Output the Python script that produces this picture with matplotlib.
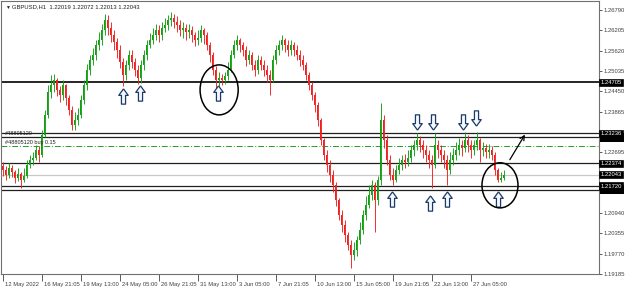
import numpy as np
import matplotlib
matplotlib.use("Agg")
import matplotlib.pyplot as plt
import matplotlib.transforms as mtransforms
from matplotlib.patches import Ellipse, Rectangle
from matplotlib.path import Path

plt.rcParams['font.family'] = ['Liberation Sans', 'DejaVu Sans']

# GBPUSD candles (each bar ~5 hours), open = previous close
first_open = 1.2230
closes = [1.2218, 1.2204, 1.2224, 1.2213, 1.2195, 1.2207, 1.2190, 1.2201,
          1.2233, 1.2247, 1.2253, 1.2276, 1.2262, 1.2319, 1.2377, 1.2443,
          1.2463, 1.2478, 1.2449, 1.2434, 1.2463, 1.2426, 1.2391, 1.2348,
          1.2362, 1.2377, 1.2420, 1.2463, 1.2506, 1.2535, 1.2550, 1.2578,
          1.2593, 1.2622, 1.2650, 1.2627, 1.2607, 1.2587, 1.2564, 1.2529,
          1.2492, 1.2521, 1.2550, 1.2529, 1.2506, 1.2483, 1.2521, 1.2550,
          1.2578, 1.2593, 1.2607, 1.2622, 1.2607, 1.2627, 1.2636, 1.2650,
          1.2656, 1.2645, 1.2636, 1.2622, 1.2627, 1.2616, 1.2622, 1.2607,
          1.2593, 1.2599, 1.2622, 1.2607, 1.2578, 1.2550, 1.2506, 1.2478,
          1.2483, 1.2478, 1.2489, 1.2506, 1.2550, 1.2578, 1.2593, 1.2578,
          1.2564, 1.2535, 1.2550, 1.2521, 1.2506, 1.2535, 1.2521, 1.2506,
          1.2492, 1.2478, 1.2535, 1.2564, 1.2578, 1.2593, 1.2578, 1.2564,
          1.2578, 1.2564, 1.2550, 1.2535, 1.2521, 1.2492, 1.2463, 1.2434,
          1.2406, 1.2362, 1.2305, 1.2262, 1.2233, 1.2204, 1.2175, 1.2132,
          1.2089, 1.2060, 1.2031, 1.2002, 1.1974, 1.1988, 1.2017, 1.2046,
          1.2089, 1.2118, 1.2146, 1.2175, 1.2132, 1.2190, 1.2362, 1.2305,
          1.2247, 1.2204, 1.2190, 1.2218, 1.2233, 1.2247, 1.2241, 1.2253,
          1.2276, 1.2290, 1.2305, 1.2290, 1.2276, 1.2262, 1.2247, 1.2233,
          1.2290, 1.2276, 1.2262, 1.2247, 1.2218, 1.2247, 1.2262, 1.2276,
          1.2290, 1.2282, 1.2305, 1.2290, 1.2276, 1.2290, 1.2305, 1.2276,
          1.2282, 1.2270, 1.2276, 1.2262, 1.2218, 1.2190, 1.2195, 1.2204]
highs = [1.2241, 1.2230, 1.2239, 1.2233, 1.2218, 1.2224, 1.2213, 1.2224,
         1.2247, 1.2262, 1.2270, 1.2290, 1.2288, 1.2334, 1.2391, 1.2463,
         1.2492, 1.2495, 1.2483, 1.2460, 1.2478, 1.2466, 1.2434, 1.2403,
         1.2385, 1.2397, 1.2434, 1.2478, 1.2524, 1.2550, 1.2570, 1.2593,
         1.2616, 1.2639, 1.2668, 1.2665, 1.2645, 1.2622, 1.2599, 1.2578,
         1.2541, 1.2535, 1.2564, 1.2564, 1.2541, 1.2521, 1.2535, 1.2564,
         1.2593, 1.2613, 1.2627, 1.2639, 1.2636, 1.2645, 1.2656, 1.2665,
         1.2673, 1.2668, 1.2662, 1.2650, 1.2645, 1.2639, 1.2639, 1.2633,
         1.2616, 1.2622, 1.2636, 1.2627, 1.2616, 1.2587, 1.2558, 1.2518,
         1.2501, 1.2495, 1.2501, 1.2529, 1.2564, 1.2593, 1.2607, 1.2599,
         1.2587, 1.2576, 1.2564, 1.2558, 1.2535, 1.2550, 1.2547, 1.2535,
         1.2521, 1.2506, 1.2550, 1.2578, 1.2593, 1.2607, 1.2599, 1.2593,
         1.2593, 1.2587, 1.2578, 1.2564, 1.2550, 1.2529, 1.2501, 1.2472,
         1.2443, 1.2414, 1.2368, 1.2311, 1.2276, 1.2247, 1.2218, 1.2184,
         1.2138, 1.2103, 1.2074, 1.2040, 1.2017, 1.2011, 1.2028, 1.2069,
         1.2103, 1.2144, 1.2175, 1.2190, 1.2184, 1.2201, 1.2411, 1.2377,
         1.2319, 1.2262, 1.2224, 1.2233, 1.2253, 1.2262, 1.2265, 1.2276,
         1.2290, 1.2305, 1.2325, 1.2316, 1.2305, 1.2290, 1.2276, 1.2262,
         1.2325, 1.2305, 1.2290, 1.2276, 1.2262, 1.2270, 1.2282, 1.2299,
         1.2311, 1.2305, 1.2328, 1.2319, 1.2305, 1.2305, 1.2328, 1.2311,
         1.2299, 1.2293, 1.2293, 1.2288, 1.2270, 1.2224, 1.2213, 1.2218]
lows = [1.2201, 1.2190, 1.2195, 1.2198, 1.2181, 1.2187, 1.2167, 1.2184,
        1.2195, 1.2224, 1.2233, 1.2247, 1.2241, 1.2256, 1.2313, 1.2368,
        1.2426, 1.2443, 1.2432, 1.2414, 1.2420, 1.2406, 1.2377, 1.2334,
        1.2334, 1.2348, 1.2368, 1.2409, 1.2449, 1.2492, 1.2521, 1.2535,
        1.2564, 1.2578, 1.2607, 1.2607, 1.2587, 1.2564, 1.2541, 1.2512,
        1.2460, 1.2478, 1.2506, 1.2512, 1.2489, 1.2466, 1.2469, 1.2506,
        1.2535, 1.2570, 1.2581, 1.2593, 1.2587, 1.2593, 1.2616, 1.2622,
        1.2633, 1.2627, 1.2616, 1.2604, 1.2599, 1.2593, 1.2599, 1.2587,
        1.2576, 1.2578, 1.2587, 1.2581, 1.2564, 1.2529, 1.2492, 1.2455,
        1.2460, 1.2463, 1.2466, 1.2478, 1.2501, 1.2541, 1.2564, 1.2558,
        1.2547, 1.2518, 1.2524, 1.2506, 1.2489, 1.2495, 1.2506, 1.2489,
        1.2472, 1.2434, 1.2472, 1.2524, 1.2550, 1.2564, 1.2558, 1.2547,
        1.2550, 1.2547, 1.2535, 1.2518, 1.2506, 1.2478, 1.2449, 1.2420,
        1.2385, 1.2345, 1.2290, 1.2247, 1.2213, 1.2184, 1.2155, 1.2115,
        1.2074, 1.2040, 1.2011, 1.1988, 1.1936, 1.1959, 1.1971, 1.2005,
        1.2034, 1.2074, 1.2109, 1.2132, 1.2040, 1.2118, 1.2175, 1.2282,
        1.2233, 1.2190, 1.2175, 1.2184, 1.2207, 1.2218, 1.2224, 1.2230,
        1.2241, 1.2259, 1.2276, 1.2270, 1.2253, 1.2241, 1.2224, 1.2167,
        1.2224, 1.2253, 1.2241, 1.2224, 1.2175, 1.2207, 1.2233, 1.2247,
        1.2262, 1.2259, 1.2270, 1.2270, 1.2253, 1.2262, 1.2276, 1.2241,
        1.2259, 1.2253, 1.2253, 1.2247, 1.2204, 1.2184, 1.2184, 1.2190]

time_labels = ['12 May 2022', '16 May 21:05', '19 May 13:00', '24 May 05:00',
               '26 May 21:05', '31 May 13:00', '3 Jun 05:00', '7 Jun 21:05',
               '10 Jun 13:00', '15 Jun 05:00', '19 Jun 21:05', '22 Jun 13:00',
               '27 Jun 05:00']
bars_per_label = 13
price_ticks = [1.26790, 1.26205, 1.25620, 1.25035, 1.24450, 1.23865, 1.23280,
               1.22695, 1.22110, 1.21525, 1.20940, 1.20355, 1.19770, 1.19185]
hidden_ticks = [1.23280, 1.22110, 1.21525]   # covered by the level boxes

# horizontal levels: (price, colour, width, style)
levels = [(1.24705, 'black', 1.2, '-'), (1.23236, '#202020', 0.9, '-'),
          (1.23130, '#202020', 0.9, '-'), (1.22860, '#22a022', 0.7, (0, (6, 2, 1, 2))),
          (1.22374, '#202020', 0.9, '-'), (1.22043, '#c8c8c8', 0.9, '-'),
          (1.21720, '#202020', 0.9, '-'), (1.21610, '#202020', 0.9, '-')]
boxed = [1.24705, 1.23236, 1.22374, 1.22043, 1.21720]
boxed_behind = [1.23130, 1.21610]   # partly covered boxes

# annotation anchors (bar index, price)
up_arrows = [(40.2, 1.2432), (45.8, 1.2440), (71.8, 1.2440), (129.8, 1.2135),
             (142.6, 1.2124), (148.2, 1.2135), (165.2, 1.2135)]
down_arrows = [(138.1, 1.2357), (143.6, 1.2357), (153.6, 1.2357), (157.8, 1.2368)]
circles = [(72.2, 1.2449, 12.7, 0.0144), (165.8, 1.2174, 12.0, 0.0130)]
trend_arrow = ((168.6, 1.2241), (174.6, 1.2327))

opens = [first_open] + closes[:-1]
x = np.arange(len(closes))
o = np.array(opens); c = np.array(closes)
up = c >= o
col = np.where(up, '#12a012', '#f02020')

fig = plt.figure(figsize=(6.25, 2.89), dpi=100)
ax = fig.add_axes([1 / 625, 15 / 289, 598 / 625, 273 / 289])

for p, clr, lw, ls in levels:
    ax.axhline(p, color=clr, lw=lw, ls=ls, zorder=1)

ax.vlines(x, lows, highs, colors=col, lw=0.65, zorder=2)
ax.bar(x, np.where(np.abs(c - o) < 0.00005, 0.00005, c - o), bottom=o,
       width=0.55, color=col, lw=0, zorder=2)

ax.set_xlim(-0.5, 198.8)
ax.set_ylim(1.19189, 1.27051)

# block arrow marker
arrow_up = Path([(0, 1), (0.62, 0.15), (0.27, 0.15), (0.27, -1), (-0.27, -1),
                 (-0.27, 0.15), (-0.62, 0.15), (0, 1)])
arrow_dn = Path([(px, -py) for px, py in arrow_up.vertices])
ax.plot([a[0] for a in up_arrows], [a[1] for a in up_arrows], ls='none',
        marker=arrow_up, ms=11, mfc='#f4f8ff', mec='#1d3a66', mew=0.9, zorder=5)
ax.plot([a[0] for a in down_arrows], [a[1] for a in down_arrows], ls='none',
        marker=arrow_dn, ms=11, mfc='#f4f8ff', mec='#1d3a66', mew=0.9, zorder=5)

for cx, cy, w, h in circles:
    ax.add_patch(Ellipse((cx, cy), w, h, fill=False, ec='black', lw=1.1, zorder=6))

ax.annotate('', xy=trend_arrow[1], xytext=trend_arrow[0],
            arrowprops=dict(arrowstyle='->', color='black', lw=0.9,
                            mutation_scale=8), zorder=6)

# texts inside chart
ax.text(4 / 598, 0.978, '\u25bc', transform=ax.transAxes, fontsize=3.5,
        va='center', ha='left', color='#202020')
ax.text(11 / 598, 0.978, 'GBPUSD,H1  1.22019 1.22072 1.22013 1.22043',
        transform=ax.transAxes, fontsize=4.2, va='center', ha='left', color='#202020')
ax.text(4 / 598, 1.2323, '#48805120', transform=ax.get_yaxis_transform(),
        fontsize=4, va='center', ha='left', color='#202020')
ax.text(4 / 598, 1.2296, '#48805120 buy 0.15', transform=ax.get_yaxis_transform(),
        fontsize=4, va='center', ha='left', color='#202020')

# right price scale
ax.yaxis.tick_right()
ax.set_yticks(price_ticks)
ax.set_yticklabels(['' if p in hidden_ticks else f'{p:.5f}' for p in price_ticks])
ax.tick_params(axis='y', length=2, width=0.6, pad=1.5, labelsize=4.2,
               colors='#404040')
ytr = ax.get_yaxis_transform()
for p in boxed_behind:
    ax.add_patch(Rectangle((1.0 + 1 / 598, p - 0.0013), 24 / 598, 0.0026,
                           transform=ytr, fc='black', ec='none',
                           clip_on=False, zorder=9))
for p in boxed:
    ax.text(1.0 + 1.5 / 598, p, f'{p:.5f}', transform=ytr,
            ha='left', va='center', fontsize=4.2, color='white', zorder=10,
            clip_on=False,
            bbox=dict(boxstyle='square,pad=0.2', fc='black', ec='black', lw=0.5))

# time scale
ax.set_xticks(np.arange(len(time_labels)) * bars_per_label)
ax.set_xticklabels(time_labels, ha='left')
ax.tick_params(axis='x', length=5, width=0.6, pad=1, labelsize=4.2,
               colors='#404040')
offset = mtransforms.ScaledTranslation(2 / 100, 0, fig.dpi_scale_trans)
for lbl in ax.get_xticklabels():
    lbl.set_transform(lbl.get_transform() + offset)

for s in ax.spines.values():
    s.set_color('#707070')
    s.set_linewidth(0.8)

fig.savefig('out.png', dpi=100)
